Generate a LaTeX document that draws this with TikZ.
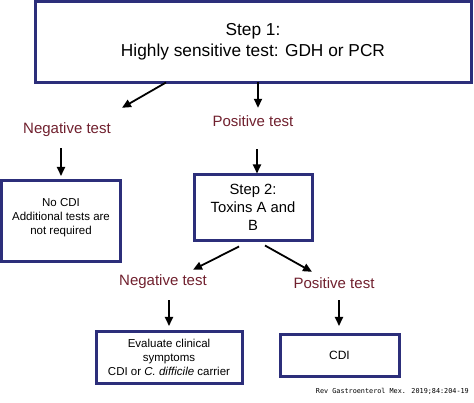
\documentclass[tikz,border=0pt]{standalone}
\usepackage{fontspec}
\setmainfont{Liberation Sans}
\newfontfamily\creditfont{DejaVu Sans Mono}
\usepackage{xcolor}
\usetikzlibrary{arrows.meta,calc}
\definecolor{boxblue}{RGB}{44,46,122}
\definecolor{testred}{RGB}{112,32,46}

\begin{document}
\begin{tikzpicture}[x=1pt,y=-1pt,
  stepbox/.style={draw=boxblue,line width=3pt,outer sep=0pt,align=center},
  result/.style={text=testred,inner sep=0pt,anchor=base,text height=11pt,text depth=3pt,
    font=\fontsize{15}{18}\selectfont},
  arr/.style={-{Triangle[length=9pt,width=8pt]},line width=1.8pt}]
  \useasboundingbox (0,0) rectangle (474,403);
  % step 1
  \node[stepbox,minimum width=436pt,minimum height=81pt,font=\fontsize{17.3}{21}\selectfont]
    (s1) at (253,42) {Step 1:\\Highly sensitive test: GDH or PCR};
  \node[result] (neg1) at (67,134) {Negative test};
  \node[result] (pos1) at (253,127) {Positive test};
  \draw[arr] ([xshift=-87pt]s1.south) -- ([xshift=55pt,yshift=15pt]neg1.north);
  \draw[arr] ([xshift=5pt]s1.south) -- ([xshift=5pt,yshift=8pt]pos1.north);
  % negative branch
  \node[stepbox,minimum width=119pt,minimum height=81pt,text depth=11pt,
    font=\fontsize{11.5}{14}\selectfont]
    (nocdi) at (61,221.5) {No CDI\\Additional tests are\\not required};
  \draw[arr] ([xshift=-6pt,yshift=-11pt]neg1.south) -- ([yshift=5pt]nocdi.north);
  % step 2
  \node[stepbox,minimum width=118pt,minimum height=66pt,font=\fontsize{14.8}{18}\selectfont]
    (s2) at (253,207.5) {Step 2:\\Toxins A and\\B};
  \draw[arr] ([xshift=4pt,yshift=-19pt]pos1.south) -- ([xshift=4pt,yshift=1pt]s2.north);
  \node[result] (neg2) at (163,286) {Negative test};
  \node[result] (pos2) at (334,289) {Positive test};
  \draw[arr] ([xshift=-14pt,yshift=-6pt]s2.south) -- ([xshift=30pt,yshift=5pt]neg2.north);
  \draw[arr] ([xshift=12pt,yshift=-5pt]s2.south) -- ([xshift=-22pt,yshift=6pt]pos2.north);
  % outcomes
  \node[stepbox,minimum width=146pt,minimum height=51pt,font=\fontsize{11.5}{14}\selectfont]
    (eval) at (169,357.5) {Evaluate clinical\\symptoms\\CDI or \textit{C.~difficile} carrier};
  \node[stepbox,minimum width=119pt,minimum height=41pt,font=\fontsize{12}{14}\selectfont]
    (cdi) at (339.5,355.5) {CDI};
  \draw[arr] ([xshift=6pt,yshift=-11pt]neg2.south) -- ([yshift=6pt]eval.north);
  \draw[arr] ([xshift=5pt,yshift=-8pt]pos2.south) -- ([xshift=-0.5pt,yshift=9pt]cdi.north);
  % source
  \node[anchor=base east,inner sep=0pt,font=\creditfont\fontsize{6.8}{8}\selectfont]
    (src) at (469,393) {Rev Gastroenterol Mex. 2019;84:204-19};
\end{tikzpicture}
\end{document}
